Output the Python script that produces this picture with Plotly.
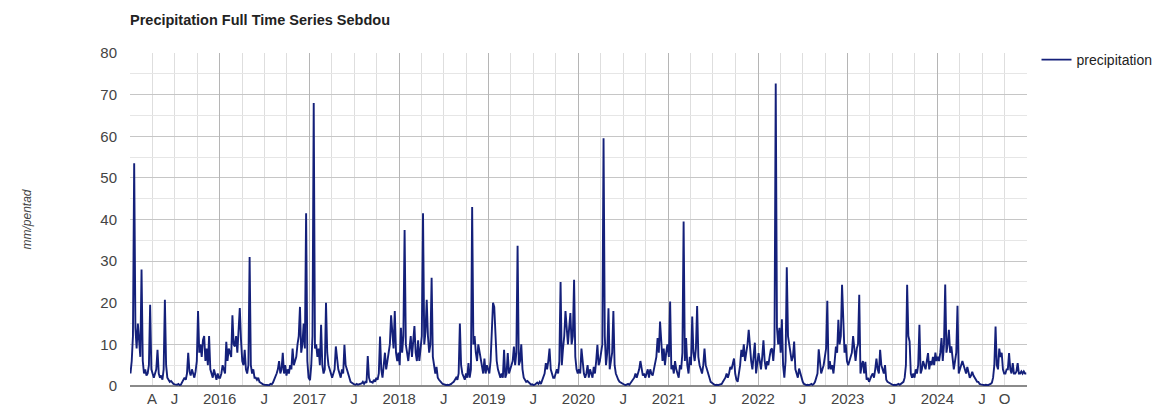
import pandas as pd
import plotly.graph_objects as go

# Pentad (5-day) precipitation totals for Sebdou, mm/pentad, 73 pentads per year
precip_2015 = [3, 6, 12, 53.5, 14, 9, 15, 11, 7, 28, 6, 3, 4, 2.5, 3, 5, 19.5, 4, 3, 2,
               3, 4, 8.7, 3, 2, 2.5, 1.5, 4, 20.7, 5, 2, 1.5, 1, 1.2, 0.8, 0.5, 0.4, 0.3, 0.3, 0.5,
               0.2, 0.3, 0.8, 1.2, 2, 1.5, 3, 8, 3.5, 2.5, 4, 3, 2, 3.5, 6, 18, 8, 10, 7, 11,
               12, 6, 9, 5, 12, 4, 3, 2, 4, 2.5, 1.5, 3, 2]
precip_2016 = [2, 3, 5, 4, 3, 10.6, 6, 9, 8, 7, 17, 10, 9.5, 12, 8, 13, 18.7, 11, 6, 5,
               8.7, 4, 3, 5, 31, 5, 3, 4, 2, 2, 1.5, 2, 1, 0.8, 0.5, 0.4, 0.3, 0.3, 0.2, 0.3,
               0.2, 0.5, 0.4, 0.8, 1.5, 2, 3, 4, 6, 3, 4, 8, 3, 5, 2.5, 4, 3, 5, 4, 9,
               5, 6, 7, 10, 12, 19, 8, 10, 15, 9, 41.5, 6, 2]
precip_2017 = [1.4, 5, 12, 68, 9, 10, 7, 9, 5, 14.7, 5, 3, 4, 20, 8, 5, 4, 3, 2, 3,
               4, 9.5, 6, 4, 3, 2, 4, 3, 9.9, 5, 4, 3, 1.5, 1, 0.8, 0.5, 0.4, 0.3, 0.5, 0.3,
               0.4, 0.5, 0.6, 1, 0.5, 1, 0.8, 7.2, 2, 1, 1, 0.8, 1.5, 1, 2, 1.5, 3, 11.9, 4, 2,
               5, 8, 4, 6, 9, 10, 17, 13, 9, 18, 8, 6, 8]
precip_2018 = [5, 14, 8, 12, 37.5, 10, 8, 6, 9, 12, 7, 10, 14.4, 8, 6, 11, 6, 9, 12, 41.5,
               10, 13, 20.7, 12, 8, 10, 26, 7, 5, 3, 4.6, 2, 1.5, 1, 0.8, 0.5, 0.3, 0.3, 0.2, 0.3,
               0.2, 0.3, 0.5, 0.8, 1, 1.5, 2, 1.5, 3, 15, 5, 3, 2, 1.5, 3, 2, 5.5, 2, 4, 43,
               10, 12, 8, 6, 10, 8, 6, 4, 3, 6.6, 3, 5, 4]
precip_2019 = [3, 6, 14, 20, 19, 10, 6, 4, 3, 2, 3, 2, 8.7, 2, 3, 7.9, 3, 4, 5, 6,
               9.5, 5, 8, 33.7, 5, 6, 10, 4, 2, 1.5, 1, 1.2, 0.8, 0.5, 0.3, 0.4, 0.2, 0.3, 0.5, 0.8,
               0.5, 1, 0.5, 1.5, 2, 3, 5.5, 4, 6, 9, 4, 3, 2, 2, 3, 4, 3, 6, 25, 5,
               9, 12, 18, 13, 10, 14, 17.5, 10, 12, 25.5, 7, 4, 3]
precip_2020 = [4, 3, 9, 5, 3, 2, 3, 5, 2, 4, 3, 2, 4.6, 3, 6, 9.9, 5, 6, 8, 10,
               59.5, 12, 5, 8, 18.7, 4, 6, 8, 18, 5, 3, 2, 1.5, 1, 0.8, 0.5, 0.3, 0.3, 0.2, 0.3,
               0.5, 0.3, 0.8, 1, 1.5, 2, 3, 2, 3, 4, 6, 4, 2.5, 3, 2, 3, 4, 2, 4, 3,
               2.5, 4, 6, 7, 11.5, 8, 15.5, 10, 6, 9, 5, 8, 10]
precip_2021 = [7, 20.3, 4, 5, 3, 6, 4, 3, 2, 5, 4, 8, 39.5, 6, 11.5, 5, 3, 7, 5, 16.7,
               8, 6, 9, 19.2, 7, 5, 4, 3, 5, 9, 5, 4, 3, 2, 1, 0.8, 0.5, 0.3, 0.2, 0.3,
               0.2, 0.3, 0.4, 0.5, 1, 1.5, 2, 3, 2, 3, 4.6, 4, 5, 6.6, 3, 1.5, 1, 3, 5, 8.7,
               7, 10, 6, 8, 10, 13.5, 9, 6, 4, 7, 10.4, 3, 6]
precip_2022 = [7.9, 6, 4, 7, 11, 6, 4, 6, 5, 7, 8.7, 9, 6, 10, 72.7, 14, 10, 14, 8, 16,
               5, 2, 6, 28.5, 12, 10, 8, 6, 7, 10.7, 4, 3, 2, 4.2, 3, 2, 1, 0.5, 0.3, 0.2,
               0.3, 0.2, 0.3, 0.5, 0.3, 0.5, 1, 2, 3, 8.8, 5, 3, 4, 5, 7, 9, 20.5, 4, 6, 4,
               5, 3, 6, 9.5, 8, 15.9, 10, 12, 24.3, 14, 8, 10, 6]
precip_2023 = [5, 6, 7, 8, 12, 8, 6, 9, 10, 21.9, 3, 5, 6, 3, 5.8, 1.5, 2, 1, 2, 2.5,
               3, 2, 4, 6.6, 4, 3, 8.7, 5, 4, 3, 5, 1.5, 1, 0.8, 0.5, 0.3, 0.3, 0.2, 0.3, 0.2,
               0.3, 0.5, 0.3, 0.5, 0.8, 1, 2, 5, 24.3, 12, 10.7, 3, 2, 3, 2, 4, 3, 5, 14.7, 3,
               4, 6, 5, 4, 6, 7.9, 4, 6, 5, 7, 5, 8, 6]
precip_2024 = [7, 6, 8, 11.5, 6, 10, 24.4, 8, 10, 13.5, 8, 9.5, 6, 4, 6, 8, 19.3, 3, 4, 5,
               6, 5, 4, 3, 4.6, 3, 2, 2.5, 3.4, 2.5, 2, 1.5, 1, 1, 0.5, 0.4, 0.3, 0.3, 0.2, 0.3,
               0.3, 0.2, 0.4, 0.5, 0.8, 2, 5, 14.3, 5, 4, 9, 7, 8, 4, 3, 3, 4, 4, 7.9, 4,
               3, 5.5, 3, 3, 3.5, 5.5, 3, 3, 3.5, 3, 3.5, 3, 3]

yearly = {
    2015: precip_2015, 2016: precip_2016, 2017: precip_2017, 2018: precip_2018,
    2019: precip_2019, 2020: precip_2020, 2021: precip_2021, 2022: precip_2022,
    2023: precip_2023, 2024: precip_2024,
}

# Axis labels along the time axis
tick_dates = ["2015-04-01", "2015-07-01", "2016-01-01", "2016-07-01", "2017-01-01",
              "2017-07-01", "2018-01-01", "2018-07-01", "2019-01-01", "2019-07-01",
              "2020-01-01", "2020-07-01", "2021-01-01", "2021-07-01", "2022-01-01",
              "2022-07-01", "2023-01-01", "2023-07-01", "2024-01-01", "2024-07-01",
              "2024-10-01"]
tick_text = ["A", "J", "2016", "J", "2017", "J", "2018", "J", "2019", "J", "2020", "J",
             "2021", "J", "2022", "J", "2023", "J", "2024", "J", "O"]

# Build the pentad timeline (pentad centres, every 5 days from Jan 3)
dates, values = [], []
for yr, vals in yearly.items():
    dates.extend(pd.date_range(f"{yr}-01-03", periods=len(vals), freq="5D"))
    values.extend(vals)

years = list(yearly.keys())
quarter_dates = [f"{yr}-{m:02d}-01" for yr in years for m in (4, 7, 10)]
x_range = ["2015-01-01", "2024-12-31"]

FONT = "Liberation Sans, Arial, sans-serif"

# Page geometry: plot area spans 130..1027 px horizontally, legend sits to its right
W, H = 1162, 412
M_L, M_R = 130, 2
PLOT_RIGHT = 1027
paper_w = W - M_L - M_R
x_domain_end = (PLOT_RIGHT - M_L) / paper_w
legend_x = (1036.5 - M_L) / paper_w

fig = go.Figure()
fig.add_trace(go.Scatter(
    x=dates, y=values, mode="lines", name="precipitation",
    line=dict(color="#14207a", width=1.9),
))
# invisible helper trace so the year gridline axis is drawn
fig.add_trace(go.Scatter(
    x=[dates[0]], y=[values[0]], xaxis="x2", mode="lines",
    showlegend=False, hoverinfo="skip", line=dict(width=0),
))

fig.update_layout(
    width=W, height=H,
    margin=dict(l=M_L, r=M_R, t=53, b=26),
    paper_bgcolor="white", plot_bgcolor="white",
    font=dict(family=FONT, size=15, color="#444444"),
    title=dict(
        text="<b>Precipitation Full Time Series Sebdou</b>",
        x=130 / W, xanchor="left", xref="container",
        y=1 - 20 / H, yanchor="middle", yref="container",
        font=dict(family=FONT, size=14.5, color="#222222"),
    ),
    showlegend=True,
    legend=dict(
        x=legend_x, y=1.027, xanchor="left", yanchor="top",
        font=dict(family=FONT, size=14, color="#222222"),
        bgcolor="rgba(0,0,0,0)",
    ),
    xaxis=dict(
        range=x_range, type="date", automargin=False, domain=[0, x_domain_end],
        tickmode="array", tickvals=tick_dates, ticktext=tick_text,
        showgrid=False, zeroline=False, showline=False,
        ticks="", ticklabelstandoff=2,
        minor=dict(tickmode="array", tickvals=quarter_dates,
                   showgrid=True, gridcolor="#dedede", gridwidth=1),
    ),
    xaxis2=dict(
        range=x_range, type="date", overlaying="x", automargin=False,
        domain=[0, x_domain_end],
        tick0="2015-01-01", dtick="M12",
        showgrid=True, gridcolor="#b5b5b5", gridwidth=1,
        showticklabels=False, zeroline=False, showline=False, ticks="",
    ),
    yaxis=dict(
        range=[0, 80], dtick=10, tick0=0, automargin=False,
        showgrid=True, gridcolor="#c6c6c6", gridwidth=1,
        zeroline=True, zerolinecolor="#8a8a8a", zerolinewidth=1.5,
        showline=False, ticks="", ticklabelstandoff=12,
        minor=dict(dtick=5, showgrid=True, gridcolor="#e6e6e6", gridwidth=1),
        title=dict(text="<i>mm/pentad</i>", standoff=66,
                   font=dict(family=FONT, size=12, color="#444444")),
    ),
)

fig.write_html("out.html")
